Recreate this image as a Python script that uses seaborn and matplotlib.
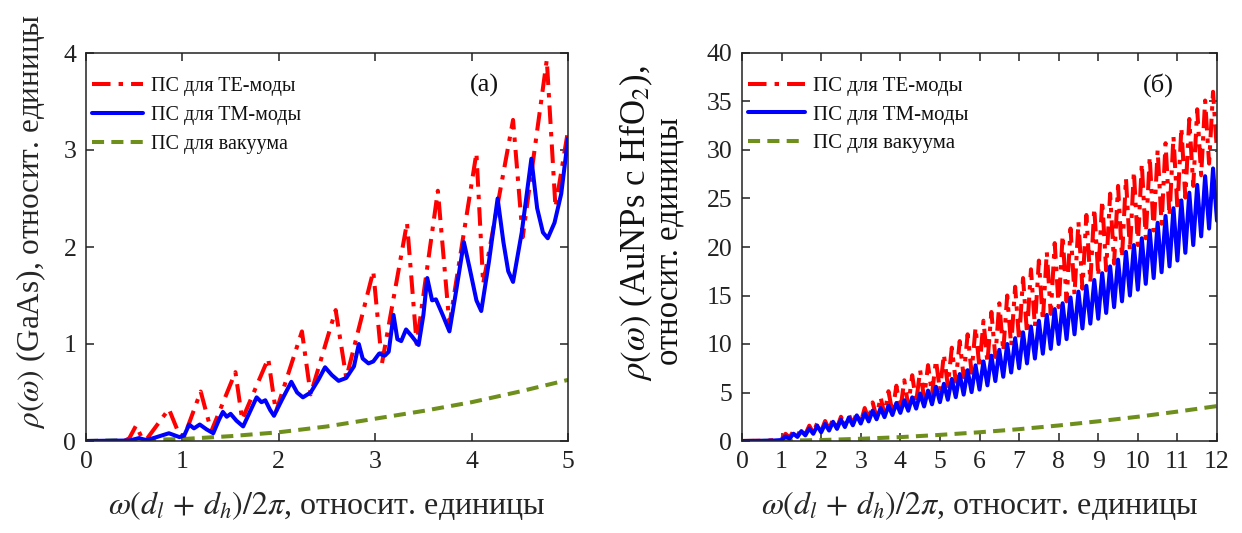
import numpy as np
import pandas as pd
import matplotlib
matplotlib.use("Agg")
import matplotlib.pyplot as plt
from matplotlib.lines import Line2D
import seaborn as sns

# ---------------- panel (а): GaAs photonic crystal ----------------
te_a_x = [0, 0.40, 0.45, 0.52, 0.58, 0.63, 0.86, 0.97, 1.02, 1.19, 1.30, 1.55, 1.62,
          1.89, 1.97, 2.24, 2.33, 2.59, 2.70, 2.98, 3.07, 3.33, 3.43, 3.65, 3.77,
          4.05, 4.12, 4.43, 4.53, 4.78, 4.87, 5.00]
te_a_y = [0, 0, 0.03, 0.16, 0.03, 0.02, 0.33, 0.06, 0.05, 0.51, 0.10, 0.71, 0.22,
          0.85, 0.30, 1.13, 0.48, 1.35, 0.65, 1.75, 0.80, 2.25, 1.00, 2.58, 1.20,
          2.97, 1.62, 3.31, 2.10, 3.93, 2.41, 3.20]

tm_a_x = [0, 0.45, 0.55, 0.62, 0.70, 0.86, 0.97, 1.02, 1.07, 1.12, 1.18, 1.25, 1.32,
          1.38, 1.42, 1.46, 1.50, 1.56, 1.63, 1.70, 1.77, 1.82, 1.86, 1.91, 1.95,
          2.03, 2.13, 2.19, 2.25, 2.33, 2.41, 2.48, 2.55, 2.62, 2.70, 2.78, 2.83,
          2.87, 2.93, 2.98, 3.04, 3.10, 3.14, 3.19, 3.23, 3.27, 3.32, 3.38, 3.45,
          3.50, 3.54, 3.59, 3.63, 3.70, 3.77, 3.84, 3.92, 3.98, 4.05, 4.10, 4.18,
          4.27, 4.33, 4.38, 4.43, 4.52, 4.62, 4.68, 4.74, 4.79, 4.86, 4.93, 5.00]
tm_a_y = [0, 0.005, 0.03, 0.01, 0.03, 0.08, 0.04, 0.06, 0.17, 0.13, 0.17, 0.12, 0.08,
          0.22, 0.30, 0.25, 0.28, 0.21, 0.15, 0.30, 0.45, 0.40, 0.42, 0.32, 0.26,
          0.42, 0.61, 0.50, 0.45, 0.50, 0.63, 0.76, 0.68, 0.62, 0.65, 0.77, 1.00,
          0.85, 0.80, 0.82, 0.90, 0.88, 0.92, 1.30, 1.05, 1.03, 1.15, 1.08, 0.99,
          1.30, 1.68, 1.45, 1.46, 1.30, 1.13, 1.55, 2.05, 1.78, 1.45, 1.34, 1.85,
          2.50, 2.05, 1.75, 1.64, 2.15, 2.91, 2.40, 2.15, 2.09, 2.25, 2.55, 3.12]

vac_a_x = [0, 0.5, 1.0, 1.5, 2.0, 2.5, 3.0, 3.5, 4.0, 4.5, 5.0]
vac_a_y = [0, 0.01, 0.02, 0.05, 0.09, 0.15, 0.23, 0.31, 0.40, 0.51, 0.63]

# ---------------- panel (б): Au nanoparticles in HfO2 ----------------
# onset before the fast oscillations
tm_b_start_x = [0, 0.5, 0.8]
tm_b_start_y = [0, 0.02, 0.05]
te_b_start_x = [0, 0.5, 0.8]
te_b_start_y = [0, 0.03, 0.08]

# minima of the oscillations at x = 1.0, 1.2, ..., 12.0
tm_b_low = [0.10, 0.25, 0.42, 0.58, 0.74, 0.90, 1.08, 1.25, 1.44, 1.62,
            1.80, 2.02, 2.24, 2.46, 2.68, 2.90, 3.12, 3.34, 3.56, 3.78,
            4.00, 4.25, 4.52, 4.78, 5.04, 5.30, 5.74, 6.18, 6.62, 7.06,
            7.50, 8.00, 8.50, 9.00, 9.50, 10.0, 10.5, 11.0, 11.6, 12.1,
            12.6, 13.2, 13.8, 14.4, 15.0, 15.6, 16.2, 16.8, 17.4, 18.0,
            18.6, 19.4, 20.2, 21.1, 21.9, 22.7]
# maxima of the oscillations at x = 1.1, 1.3, ..., 11.9
tm_b_high = [0.48, 0.75, 1.02, 1.30, 1.57, 1.76, 1.98, 2.20, 2.42, 2.64,
             2.87, 3.13, 3.40, 3.66, 3.92, 4.20, 4.50, 4.90, 5.20, 5.60,
             5.90, 6.40, 6.90, 7.30, 7.80, 8.20, 8.80, 9.40, 10.0, 10.6,
             11.2, 11.8, 12.4, 13.0, 13.6, 14.2, 14.8, 15.4, 16.0, 16.6,
             17.3, 18.0, 18.7, 19.5, 20.2, 20.9, 21.7, 22.5, 23.2, 24.0,
             24.8, 25.6, 26.4, 27.3, 28.1]

te_b_low = [0.20, 0.36, 0.52, 0.68, 0.84, 1.00, 1.18, 1.36, 1.54, 1.72,
            1.90, 2.16, 2.42, 2.68, 2.94, 3.20, 3.60, 4.00, 4.40, 4.80,
            5.20, 5.66, 6.12, 6.58, 7.04, 7.50, 8.08, 8.66, 9.24, 9.82,
            10.4, 11.1, 11.8, 12.4, 13.1, 13.8, 14.4, 15.1, 15.7, 16.4,
            17.0, 17.6, 18.3, 18.9, 19.6, 20.2, 20.9, 21.7, 22.4, 23.2,
            23.9, 25.1, 26.3, 27.4, 28.6, 29.8]
te_b_high = [0.74, 1.02, 1.30, 1.58, 1.86, 2.06, 2.28, 2.50, 2.72, 2.94,
             3.40, 3.98, 4.55, 5.13, 5.70, 6.26, 6.78, 7.30, 7.82, 8.34,
             8.94, 9.62, 10.3, 11.0, 11.7, 12.4, 13.3, 14.2, 15.0, 15.9,
             16.8, 17.7, 18.6, 19.5, 20.4, 21.2, 21.9, 22.6, 23.3, 24.0,
             24.8, 25.5, 26.3, 27.1, 27.8, 28.6, 29.3, 30.0, 30.7, 31.4,
             32.3, 33.2, 34.2, 35.1, 36.0]

vac_b_x = [0, 1, 2, 3, 4, 5, 6, 7, 8, 9, 10, 11, 12]
vac_b_y = [0, 0.03, 0.10, 0.23, 0.40, 0.63, 0.90, 1.22, 1.60, 2.03, 2.50, 3.03, 3.60]

labels = ["ПС для TE-моды", "ПС для TM-моды", "ПС для вакуума"]


def zigzag(start_x, start_y, low, high):
    """Join the onset with alternating minima (even tenths) and maxima (odd tenths)."""
    low_x = np.round(1.0 + 0.2 * np.arange(len(low)), 2)
    high_x = low_x[:len(high)] + 0.1
    xs, ys = list(start_x), list(start_y)
    for i in range(len(low)):
        xs.append(low_x[i]); ys.append(low[i])
        if i < len(high):
            xs.append(high_x[i]); ys.append(high[i])
    return pd.DataFrame({"x": xs, "y": ys})


# ---------------- styling ----------------
sns.set_theme(style="ticks")
plt.rcParams["font.family"] = ["Liberation Serif", "DejaVu Serif"]
plt.rcParams["mathtext.fontset"] = "stix"
plt.rcParams["axes.linewidth"] = 1.1
plt.rcParams["axes.edgecolor"] = "#222222"
plt.rcParams["text.color"] = "#111111"
plt.rcParams["xtick.color"] = "#222222"
plt.rcParams["ytick.color"] = "#222222"

RED, BLUE, OLIVE = "#ff0000", "#0000ff", "#6f8f1c"
LW = 2.9
TE_STYLE = (0, (4.6, 2.0, 1.1, 2.0))
VAC_STYLE = (0, (3.0, 1.8))

fig = plt.figure(figsize=(12.42, 5.33), dpi=100)
ax1 = fig.add_axes([86 / 1242, 1 - 441 / 533, 482 / 1242, 388 / 533])
ax2 = fig.add_axes([742 / 1242, 1 - 441 / 533, 475 / 1242, 388 / 533])


def draw(ax, te, tm, vac, legend_size, handle_len, spacing):
    sns.lineplot(data=vac, x="x", y="y", ax=ax, color=OLIVE, lw=LW,
                 linestyle=VAC_STYLE, estimator=None, sort=False)
    sns.lineplot(data=te, x="x", y="y", ax=ax, color=RED, lw=LW,
                 linestyle=TE_STYLE, estimator=None, sort=False)
    sns.lineplot(data=tm, x="x", y="y", ax=ax, color=BLUE, lw=LW,
                 estimator=None, sort=False)
    handles = [Line2D([], [], color=RED, lw=LW, linestyle=TE_STYLE),
               Line2D([], [], color=BLUE, lw=LW),
               Line2D([], [], color=OLIVE, lw=LW, linestyle=VAC_STYLE)]
    ax.legend(handles, labels, loc="upper left", bbox_to_anchor=(0.0, 0.955),
              frameon=False, fontsize=legend_size, handlelength=handle_len,
              handletextpad=0.4, labelspacing=spacing, borderpad=0.3,
              borderaxespad=0.0)
    ax.tick_params(direction="in", top=True, right=True, length=6, width=1.1,
                   labelsize=18.5, pad=7)


te_a = pd.DataFrame({"x": te_a_x, "y": te_a_y})
tm_a = pd.DataFrame({"x": tm_a_x, "y": tm_a_y})
vac_a = pd.DataFrame({"x": vac_a_x, "y": vac_a_y})
draw(ax1, te_a, tm_a, vac_a, 14.5, 2.55, 0.5)
ax1.set_xlim(0, 5)
ax1.set_ylim(0, 4)
ax1.set_xticks(range(0, 6))
ax1.set_yticks(range(0, 5))

te_b = zigzag(te_b_start_x, te_b_start_y, te_b_low, te_b_high)
tm_b = zigzag(tm_b_start_x, tm_b_start_y, tm_b_low, tm_b_high)
vac_b = pd.DataFrame({"x": vac_b_x, "y": vac_b_y})
draw(ax2, te_b, tm_b, vac_b, 15.0, 2.7, 0.42)
ax2.set_xlim(0, 12)
ax2.set_ylim(0, 40)
ax2.set_xticks(range(0, 13))
ax2.set_yticks(range(0, 41, 5))

xlab = r"$\omega(d_l\,+\,d_h)/2\pi$, относит. единицы"
for ax in (ax1, ax2):
    ax.set_xlabel(xlab, fontsize=23)
    ax.xaxis.set_label_coords(0.5, -0.125)

ax1.set_ylabel(r"$\rho(\omega)$ (GaAs), относит. единицы", fontsize=22.5)
ax1.yaxis.set_label_coords(-0.078, 0.565)

# two-line y label of panel (б)
ax2.set_ylabel("")
ax2.text(-0.222, 0.56, r"$\rho(\omega)$ (AuNPs с HfO$_2$),", transform=ax2.transAxes,
         rotation=90, ha="center", va="center", fontsize=25)
ax2.text(-0.153, 0.515, "относит. единицы", transform=ax2.transAxes,
         rotation=90, ha="center", va="center", fontsize=23.5)

ax1.text(0.826, 0.917, "(а)", transform=ax1.transAxes, fontsize=19,
         ha="center", va="center")
ax2.text(0.876, 0.917, "(б)", transform=ax2.transAxes, fontsize=19,
         ha="center", va="center")

fig.savefig("out.png", dpi=100, facecolor="white")
